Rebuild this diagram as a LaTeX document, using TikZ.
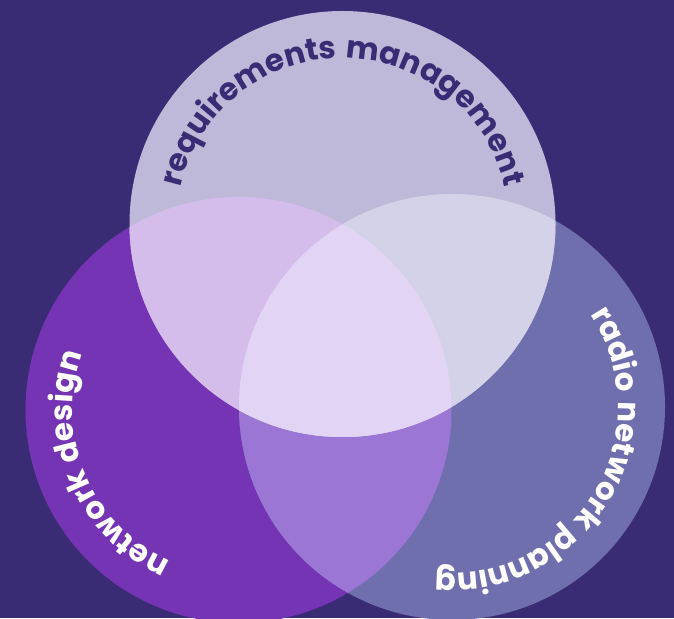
\documentclass[tikz,border=0pt]{standalone}
\usepackage{fontspec}
\newfontfamily\popfont[LetterSpace=4]{Poppins}
\usetikzlibrary{decorations.text}
\definecolor{bgc}{HTML}{3A2C74}
\definecolor{topc}{HTML}{BFB9D9}
\definecolor{leftc}{HTML}{7434B4}
\definecolor{rightc}{HTML}{6F6FAE}
\definecolor{tlc}{HTML}{D5BDEB}
\definecolor{trc}{HTML}{D3D2E8}
\definecolor{lrc}{HTML}{9C76D4}
\definecolor{allc}{HTML}{E2D4F4}
\definecolor{darktext}{HTML}{3A2C74}
\newcommand{\arcfont}{\popfont\bfseries\fontsize{31pt}{31pt}\selectfont}
\begin{document}
\begin{tikzpicture}[x=1pt,y=1pt,
  arclabel/.style={decorate, decoration={text along path, text align=center, text color=#1}}]
\fill[bgc] (0,0) rectangle (674,618);
\useasboundingbox (0,0) rectangle (674,618);
\coordinate (T) at (342.5,394);
\coordinate (L) at (238.5,208);
\coordinate (R) at (452,211);
\def\rad{213}
% single circles
\fill[leftc] (L) circle[radius=\rad];
\fill[rightc] (R) circle[radius=\rad];
\begin{scope}
  \clip (R) circle[radius=\rad];
  \fill[lrc] (L) circle[radius=\rad];
\end{scope}
\fill[topc] (T) circle[radius=\rad];
\begin{scope}
  \clip (T) circle[radius=\rad];
  \fill[tlc] (L) circle[radius=\rad];
  \fill[trc] (R) circle[radius=\rad];
  \clip (L) circle[radius=\rad];
  \fill[allc] (R) circle[radius=\rad];
\end{scope}
% curved labels
\path[arclabel=darktext, decoration={text={|\arcfont|requirements management}}]
  (T) ++(180:166) arc[start angle=180, end angle=0, radius=166];
\path[arclabel=white, decoration={text={|\arcfont|radio network planning}}]
  (R) ++(62:166) arc[start angle=62, end angle=-124, radius=166];
\path[arclabel=white, decoration={text={|\arcfont|network design}}]
  (L) ++(298:166) arc[start angle=298, end angle=108, radius=166];
\end{tikzpicture}
\end{document}
